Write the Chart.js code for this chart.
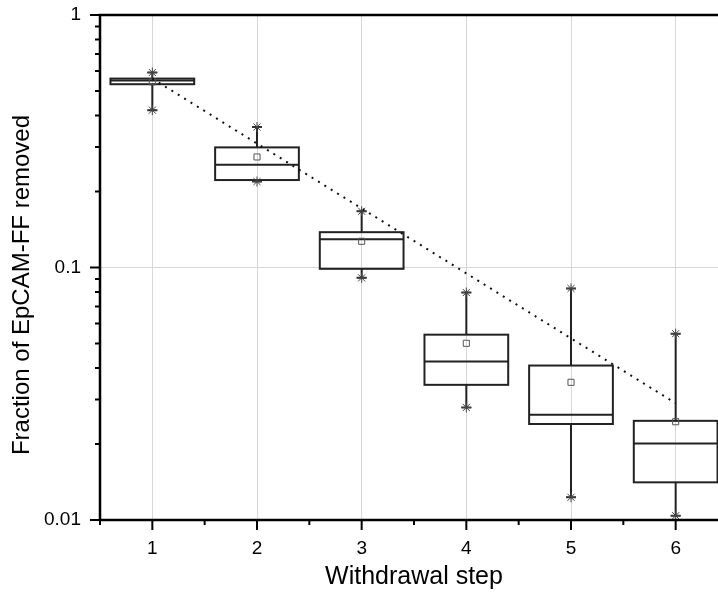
<!DOCTYPE html>
<html>
<head>
<meta charset="utf-8">
<script src="https://cdn.jsdelivr.net/npm/chart.js@4.4.1/dist/chart.umd.min.js"></script>
<style>
  html, body { margin: 0; padding: 0; background: #fff; overflow: hidden; width: 718px; height: 596px; }
  #wrap { position: relative; width: 740px; height: 596px; }
</style>
</head>
<body>
<div id="wrap"><canvas id="chart"></canvas></div>
<script>
// Withdrawal steps and the box statistics for each step
const steps       = [1, 2, 3, 4, 5, 6];
const whiskerHigh = [0.592, 0.36, 0.167, 0.0796, 0.0826, 0.0547];
const upperQ      = [0.56, 0.299, 0.138, 0.0542, 0.0409, 0.0247];
const medians     = [0.55, 0.2555, 0.1295, 0.0424, 0.0261, 0.0201];
const lowerQ      = [0.532, 0.222, 0.0988, 0.0343, 0.0240, 0.0141];
const whiskerLow  = [0.42, 0.219, 0.091, 0.0279, 0.0123, 0.0104];
const means       = [0.5436, 0.274, 0.127, 0.0501, 0.0351, 0.0245];

// Exponential decay guide line (end points)
const trendSteps  = [1, 6];
const trendValues = [0.56, 0.029];

// Labelled decades on the y axis
const yTickLabels = [0.01, 0.1, 1];

const FONT = '"Liberation Sans", Arial, sans-serif';
const BOX_HALF = 0.4;

const isDecade = v => yTickLabels.some(d => Math.abs(v - d) < d * 1e-6);

const boxPlot = {
  id: 'boxPlot',
  beforeDatasetsDraw(chart) {
    const { ctx, scales: { x, y } } = chart;
    ctx.save();
    ctx.strokeStyle = '#222';
    ctx.lineWidth = 2;
    steps.forEach((s, i) => {
      const xl = x.getPixelForValue(s - BOX_HALF);
      const xr = x.getPixelForValue(s + BOX_HALF);
      const xc = x.getPixelForValue(s);
      const yq3 = y.getPixelForValue(upperQ[i]);
      const yq1 = y.getPixelForValue(lowerQ[i]);
      const ym = y.getPixelForValue(medians[i]);
      const yh = y.getPixelForValue(whiskerHigh[i]);
      const yl = y.getPixelForValue(whiskerLow[i]);
      ctx.strokeRect(xl, yq3, xr - xl, yq1 - yq3);
      ctx.beginPath();
      ctx.moveTo(xl, ym); ctx.lineTo(xr, ym);
      ctx.moveTo(xc, yq3); ctx.lineTo(xc, yh);
      ctx.moveTo(xc, yq1); ctx.lineTo(xc, yl);
      ctx.moveTo(xc - 5, yh); ctx.lineTo(xc + 5, yh);
      ctx.moveTo(xc - 5, yl); ctx.lineTo(xc + 5, yl);
      ctx.stroke();
    });
    ctx.restore();
  },
  afterDraw(chart) {
    const { ctx, chartArea: a, scales: { x, y } } = chart;
    ctx.save();
    ctx.strokeStyle = '#000';
    ctx.lineCap = 'butt';
    // frame
    ctx.lineWidth = 2.5;
    ctx.beginPath();
    ctx.moveTo(a.left, a.top - 1.25); ctx.lineTo(a.left, a.bottom + 1.25);
    ctx.moveTo(a.left - 1.25, a.bottom); ctx.lineTo(a.right + 1.25, a.bottom);
    ctx.moveTo(a.left - 1.25, a.top); ctx.lineTo(a.right + 1.25, a.top);
    ctx.moveTo(a.right, a.top); ctx.lineTo(a.right, a.bottom);
    ctx.stroke();
    // y ticks: decades and minor 2..9
    ctx.lineWidth = 2;
    ctx.beginPath();
    [0.01, 0.1].forEach(d => {
      for (let m = 1; m <= 9; m++) {
        const py = y.getPixelForValue(d * m);
        const len = m === 1 ? 10 : 5;
        ctx.moveTo(a.left - len, py); ctx.lineTo(a.left, py);
      }
    });
    const pTop = y.getPixelForValue(1);
    ctx.moveTo(a.left - 10, pTop); ctx.lineTo(a.left, pTop);
    // x ticks: integers and halves
    for (let v = 0.5; v <= 6.5; v += 0.5) {
      const px = x.getPixelForValue(v);
      const len = Number.isInteger(v) ? 10 : 5;
      ctx.moveTo(px, a.bottom); ctx.lineTo(px, a.bottom + len);
    }
    ctx.stroke();
    // y axis title
    ctx.fillStyle = '#000';
    ctx.font = '24px ' + FONT;
    ctx.textAlign = 'center';
    ctx.textBaseline = 'middle';
    ctx.translate(22, 285);
    ctx.rotate(-Math.PI / 2);
    ctx.fillText('Fraction of EpCAM-FF removed', 0, 0);
    ctx.restore();
  }
};

new Chart(document.getElementById('chart'), {
  type: 'scatter',
  data: {
    datasets: [
      {
        type: 'line',
        label: 'trend',
        data: trendSteps.map((s, i) => ({ x: s, y: trendValues[i] })),
        borderColor: '#111',
        borderWidth: 2,
        borderDash: [2, 5.5],
        pointRadius: 0,
        fill: false
      },
      {
        label: 'whisker ends',
        data: steps.flatMap((s, i) => [{ x: s, y: whiskerHigh[i] }, { x: s, y: whiskerLow[i] }]),
        pointStyle: 'star',
        radius: 5,
        borderColor: '#444',
        borderWidth: 1,
        backgroundColor: 'transparent'
      },
      {
        label: 'mean',
        data: steps.map((s, i) => ({ x: s, y: means[i] })),
        pointStyle: 'rect',
        radius: 4.3,
        borderColor: '#555',
        borderWidth: 1,
        backgroundColor: 'transparent'
      }
    ]
  },
  plugins: [boxPlot],
  options: {
    responsive: true,
    maintainAspectRatio: false,
    animation: false,
    events: [],
    layout: { padding: { top: 15, right: 12, left: 0, bottom: 0 } },
    plugins: { legend: { display: false }, tooltip: { enabled: false } },
    scales: {
      x: {
        type: 'linear',
        min: 0.5,
        max: 6.5,
        afterFit: s => { s.height = 76; s.paddingLeft = 0; s.paddingRight = 0; },
        border: { display: false },
        grid: {
          drawTicks: false,
          lineWidth: 1,
          color: c => (c.tick && Number.isInteger(c.tick.value) ? '#d6d6d6' : 'rgba(0,0,0,0)')
        },
        ticks: {
          stepSize: 0.5,
          autoSkip: false,
          maxRotation: 0,
          padding: 17,
          color: '#000',
          font: { family: FONT, size: 19 },
          callback: v => (Number.isInteger(v) ? String(v) : '')
        },
        title: {
          display: true,
          text: 'Withdrawal step',
          color: '#000',
          font: { family: FONT, size: 25 },
          padding: { top: 0, bottom: 4 }
        }
      },
      y: {
        type: 'logarithmic',
        min: 0.01,
        max: 1,
        afterFit: s => { s.width = 100; s.paddingTop = 0; s.paddingBottom = 0; },
        border: { display: false },
        grid: {
          drawTicks: false,
          lineWidth: 1,
          color: c => (c.tick && isDecade(c.tick.value) ? '#d6d6d6' : 'rgba(0,0,0,0)')
        },
        ticks: {
          autoSkip: false,
          padding: 19,
          color: '#000',
          font: { family: FONT, size: 19 },
          callback: v => (isDecade(v) ? String(v) : '')
        }
      }
    }
  }
});
</script>
</body>
</html>
